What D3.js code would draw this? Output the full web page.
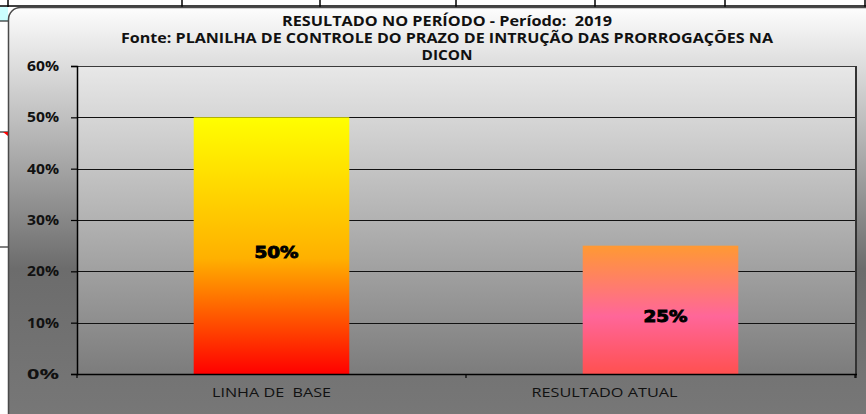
<!DOCTYPE html>
<html>
<head>
<meta charset="utf-8">
<script src="https://cdn.jsdelivr.net/npm/d3@7"></script>
<style>
  body { margin: 0; background: #fff; }
  svg { display: block; }
  text { white-space: pre; }
</style>
</head>
<body>
<svg id="chart" width="866" height="414"></svg>
<script>
var categories = ["LINHA DE  BASE", "RESULTADO ATUAL"];
var values = [0.50, 0.25];
var valueLabels = ["50%", "25%"];
var yTicks = [0, 0.1, 0.2, 0.3, 0.4, 0.5, 0.6];
var titleLines = [
  "RESULTADO NO PERÍODO - Período:  2019",
  "Fonte: PLANILHA DE CONTROLE DO PRAZO DE INTRUÇÃO DAS PRORROGAÇÕES NA",
  "DICON"
];

var svg = d3.select("#chart");
var defs = svg.append("defs");

function vGrad(id, stops) {
  var g = defs.append("linearGradient").attr("id", id)
    .attr("x1", 0).attr("y1", 0).attr("x2", 0).attr("y2", 1);
  stops.forEach(function(s) {
    g.append("stop").attr("offset", s[0]).attr("stop-color", s[1]);
  });
}
vGrad("areaFill", [["0%", "#fdfdfd"], ["58%", "#6c6c6c"], ["100%", "#7a7a7a"]]);
vGrad("plotFill", [["0%", "#e8e8e8"], ["100%", "#7c7c7c"]]);
vGrad("bar0", [["0%", "#ffff00"], ["55%", "#ffb000"], ["100%", "#ff0000"]]);
vGrad("bar1", [["0%", "#ff9933"], ["55%", "#ff6699"], ["100%", "#ff5050"]]);

// spreadsheet behind the chart
var sheet = svg.append("g");
sheet.append("rect").attr("x", 0).attr("y", 7).attr("width", 8).attr("height", 14).attr("fill", "#ccffff");
sheet.append("line").attr("x1", 0).attr("x2", 866).attr("y1", 6).attr("y2", 6)
  .attr("stroke", "#000").attr("stroke-width", 1.5);
[8, 182, 320, 456, 595, 725, 865].forEach(function(x) {
  sheet.append("line").attr("x1", x).attr("x2", x).attr("y1", 0).attr("y2", 7)
    .attr("stroke", "#000").attr("stroke-width", 1.5);
});
sheet.append("line").attr("x1", 0).attr("x2", 8).attr("y1", 21).attr("y2", 21).attr("stroke", "#000");
sheet.append("line").attr("x1", 0).attr("x2", 8).attr("y1", 132).attr("y2", 132).attr("stroke", "#000");
sheet.append("path").attr("d", "M3,132L8,132L8,136Z").attr("fill", "#ff0000");
sheet.append("line").attr("x1", 0).attr("x2", 8).attr("y1", 247).attr("y2", 247).attr("stroke", "#000");

// chart area
svg.append("rect")
  .attr("x", 8.5).attr("y", 7.5).attr("width", 900).attr("height", 450).attr("rx", 12)
  .attr("fill", "url(#areaFill)").attr("stroke", "#4a4a4a").attr("stroke-width", 1.5);

var plot = {left: 77, right: 855, top: 66, bottom: 374};

var x = d3.scaleBand().domain(categories)
  .range([plot.left, plot.right]).paddingInner(0.6).paddingOuter(0.3);
var y = d3.scaleLinear().domain([0, 0.6]).range([plot.bottom, plot.top]);

svg.append("rect")
  .attr("x", plot.left).attr("y", plot.top)
  .attr("width", plot.right - plot.left).attr("height", plot.bottom - plot.top)
  .attr("fill", "url(#plotFill)");

// gridlines
svg.append("g").selectAll("line").data(yTicks.slice(1, -1)).join("line")
  .attr("x1", plot.left).attr("x2", plot.right)
  .attr("y1", function(d) { return Math.round(y(d)) + 0.5; })
  .attr("y2", function(d) { return Math.round(y(d)) + 0.5; })
  .attr("stroke", "#111").attr("stroke-width", 1.2);

// bars
svg.append("g").selectAll("rect").data(values).join("rect")
  .attr("x", function(d, i) { return x(categories[i]); })
  .attr("y", function(d) { return y(d); })
  .attr("width", x.bandwidth())
  .attr("height", function(d) { return y(0) - y(d); })
  .attr("fill", function(d, i) { return "url(#bar" + i + ")"; });

// plot border
svg.append("line").attr("x1", plot.left).attr("x2", plot.right)
  .attr("y1", plot.top + 0.5).attr("y2", plot.top + 0.5).attr("stroke", "#3a3a3a").attr("stroke-width", 1.2);
svg.append("line").attr("x1", plot.right + 1).attr("x2", plot.right + 1)
  .attr("y1", plot.top).attr("y2", plot.bottom + 4).attr("stroke", "#333").attr("stroke-width", 2);

// y axis
var yAxis = svg.append("g").attr("transform", "translate(" + plot.left + ",0)")
  .call(d3.axisLeft(y).tickValues(yTicks).tickFormat(d3.format(".0%")).tickSize(6).tickPadding(12));
yAxis.select(".domain").attr("stroke", "#000").attr("stroke-width", 1.5);
yAxis.selectAll(".tick line").attr("stroke", "#000").attr("stroke-width", 1.2);
yAxis.selectAll(".tick text")
  .attr("font-family", "Open Sans").attr("font-weight", "bold").attr("font-size", 14)
  .attr("fill", "#111").attr("textLength", 32).attr("lengthAdjust", "spacingAndGlyphs");

// x axis
var xAxis = svg.append("g").attr("transform", "translate(0," + plot.bottom + ")")
  .call(d3.axisBottom(x).tickSize(0).tickSizeOuter(0).tickPadding(0));
xAxis.select(".domain").remove();
xAxis.append("line").attr("x1", plot.left).attr("x2", plot.right + 2).attr("y1", 0.5).attr("y2", 0.5)
  .attr("stroke", "#000").attr("stroke-width", 1.5);
xAxis.selectAll(".sep").data([plot.left, (plot.left + plot.right) / 2, plot.right]).join("line")
  .attr("x1", function(d) { return d; }).attr("x2", function(d) { return d; })
  .attr("y1", 0).attr("y2", 4).attr("stroke", "#000").attr("stroke-width", 1.2);
var labelShift = [0, -56];
xAxis.selectAll(".tick text")
  .attr("y", 23).attr("dy", 0)
  .attr("dx", function(d, i) { return labelShift[i]; })
  .attr("font-family", "Open Sans").attr("font-size", 12.5).attr("fill", "#111")
  .attr("textLength", function(d, i) { return i === 0 ? 119 : 146; })
  .attr("lengthAdjust", "spacingAndGlyphs");

// value labels
svg.append("g").selectAll("text").data(values).join("text")
  .attr("x", function(d, i) { return x(categories[i]) + x.bandwidth() / 2 + 5; })
  .attr("y", function(d) { return (y(d) + y(0)) / 2 + 12; })
  .attr("text-anchor", "middle")
  .attr("font-family", "DejaVu Sans").attr("font-weight", "bold").attr("font-size", 15)
  .attr("fill", "#000").attr("stroke", "#000").attr("stroke-width", 0.9)
  .attr("textLength", 44).attr("lengthAdjust", "spacingAndGlyphs")
  .text(function(d, i) { return valueLabels[i]; });

// title
var titleWidths = [330, 652, 51];
svg.append("g").selectAll("text").data(titleLines).join("text")
  .attr("x", 447).attr("y", function(d, i) { return 26 + i * 17; })
  .attr("text-anchor", "middle")
  .attr("font-family", "Open Sans").attr("font-weight", "bold").attr("font-size", 13.5)
  .attr("fill", "#111")
  .attr("textLength", function(d, i) { return titleWidths[i]; })
  .attr("lengthAdjust", "spacingAndGlyphs")
  .text(function(d) { return d; });
</script>
</body>
</html>
